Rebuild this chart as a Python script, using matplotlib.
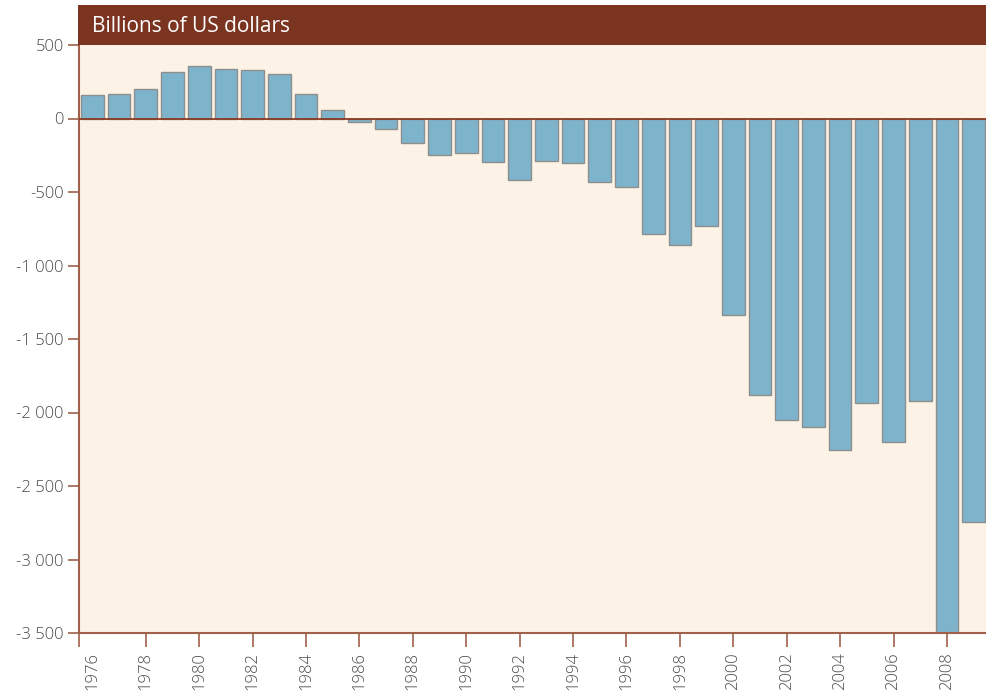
import matplotlib
matplotlib.use("Agg")
import matplotlib.pyplot as plt

years = list(range(1976, 2010))
values = [163, 170, 204, 313, 358, 340, 328, 301, 165, 61,
          -27, -73, -170, -246, -233, -295, -416, -290, -301, -432,
          -467, -787, -860, -733, -1340, -1878, -2050, -2099, -2258, -1937,
          -2198, -1919, -3500, -2744]
y_ticks = [500, 0, -500, -1000, -1500, -2000, -2500, -3000, -3500]
y_labels = ["500", "0", "-500", "-1 000", "-1 500", "-2 000", "-2 500", "-3 000", "-3 500"]
title = "Billions of US dollars"

plt.rcParams['font.family'] = ['Open Sans', 'DejaVu Sans']

W, H = 987, 693
fig = plt.figure(figsize=(W / 100, H / 100), dpi=100)
fig.patch.set_facecolor('white')

left, right, top, bottom = 79, 987, 45, 633
ax = fig.add_axes([left / W, 1 - bottom / H, (right - left) / W, (bottom - top) / H])
ax.set_facecolor('#FCF3E6')

spine_col = '#A0604A'
label_col = '#4A4A4A'
x = list(range(len(years)))
ax.bar(x, values, width=0.85, color='#7EB4CB', edgecolor='#8E8E8E', linewidth=1.0, zorder=2)
ax.axhline(0, color='#8B3A22', linewidth=1.3, zorder=3)

ax.set_xlim(-0.5, len(years) - 0.5)
ax.set_ylim(-3500, 500)

ax.set_yticks(y_ticks)
ax.set_yticklabels(y_labels, fontweight='light')
ax.tick_params(axis='y', length=8, width=1.2, color=spine_col, labelsize=12,
               labelcolor=label_col, pad=3)

ax.xaxis.remove_overlapping_locs = False
major_pos = [-0.5] + [i for i in x if years[i] % 2 == 0 and i > 0]
ax.set_xticks(major_pos)
ax.set_xticklabels([''] * len(major_pos))
label_pos = [i for i in x if years[i] % 2 == 0]
ax.set_xticks(label_pos, minor=True)
ax.set_xticklabels([str(years[i]) for i in label_pos], minor=True, rotation=90,
                   fontsize=12, color=label_col, fontweight='light')
ax.tick_params(axis='x', which='major', length=10, width=1.2, color=spine_col)
ax.tick_params(axis='x', which='minor', length=0, pad=14)

for s in ['top', 'right']:
    ax.spines[s].set_visible(False)
ax.spines['left'].set_color(spine_col)
ax.spines['left'].set_linewidth(1.5)
ax.spines['bottom'].set_color(spine_col)
ax.spines['bottom'].set_linewidth(1.5)

hdr = fig.add_axes([78 / W, 1 - 45 / H, (987 - 78) / W, 40 / H])
hdr.set_facecolor('#7A3420')
hdr.set_xticks([])
hdr.set_yticks([])
for s in hdr.spines.values():
    s.set_visible(False)
hdr.text(14 / (987 - 78), 0.47, title, color='white', fontsize=15,
         va='center', ha='left', transform=hdr.transAxes)

fig.savefig('out.png', dpi=100)
